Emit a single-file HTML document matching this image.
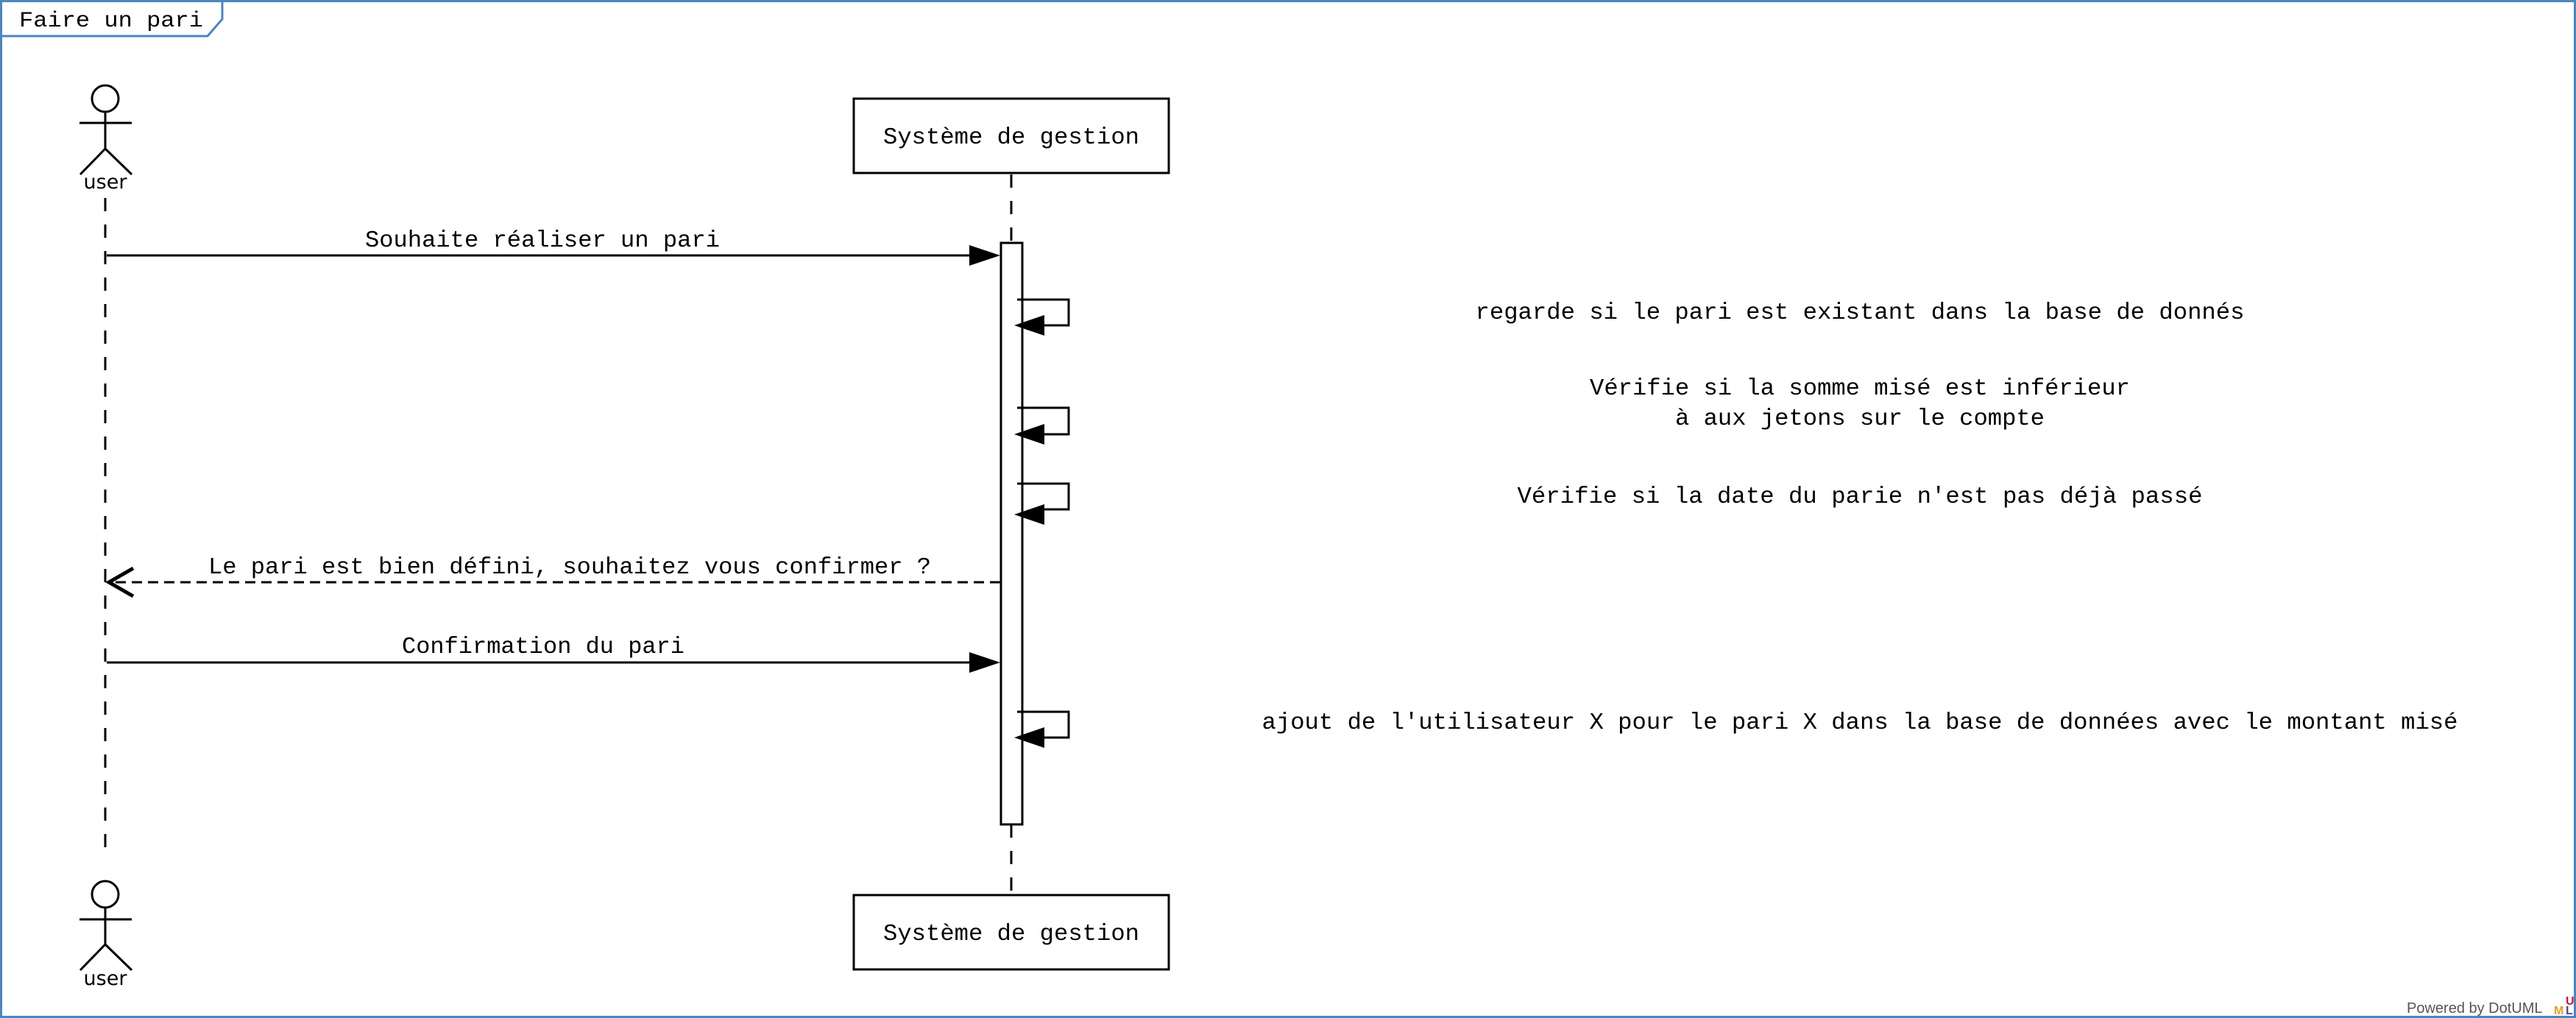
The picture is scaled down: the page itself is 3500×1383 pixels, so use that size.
<!DOCTYPE html>
<html><head><meta charset="utf-8"><style>html,body{margin:0;padding:0;background:#fff}svg{display:block}</style></head>
<body>
<svg width="3500" height="1383" viewBox="0 0 3500 1383" xmlns="http://www.w3.org/2000/svg">
<rect x="0" y="0" width="3500" height="1383" fill="#fff"/>
<rect x="1.5" y="1.5" width="3497" height="1380" fill="none" stroke="#4a86c0" stroke-width="3"/>
<path d="M1.5 49 L282 49 L302 26 L302 1.5" fill="none" stroke="#4a86c0" stroke-width="3"/>
<g font-family="Liberation Mono, monospace" font-size="31.6" fill="#000">
<text x="26" y="36" font-size="30" textLength="250" lengthAdjust="spacingAndGlyphs">Faire un pari</text>
</g>
<g stroke="#000" stroke-width="3" fill="none">
<ellipse cx="143" cy="134" rx="18" ry="18"/>
<line x1="143" y1="152" x2="143" y2="202"/>
<line x1="108" y1="167" x2="179" y2="167"/>
<line x1="143" y1="202" x2="109" y2="237"/>
<line x1="143" y1="202" x2="179" y2="237"/>
<ellipse cx="143" cy="1215" rx="18" ry="18"/>
<line x1="143" y1="1233" x2="143" y2="1283"/>
<line x1="108" y1="1249" x2="179" y2="1249"/>
<line x1="143" y1="1283" x2="109" y2="1318"/>
<line x1="143" y1="1283" x2="179" y2="1318"/>
<line x1="143" y1="269" x2="143" y2="1167" stroke-dasharray="18 18"/>
<line x1="1374" y1="237" x2="1374" y2="330" stroke-dasharray="18 18"/>
<line x1="1374" y1="1120" x2="1374" y2="1215" stroke-dasharray="18 18"/>
<rect x="1160" y="134" width="428" height="101" fill="#fff"/>
<rect x="1160" y="1216" width="428" height="101" fill="#fff"/>
<rect x="1360" y="330" width="29" height="790" fill="#fff"/>
<line x1="145" y1="347" x2="1325" y2="347"/>
<line x1="145" y1="900" x2="1325" y2="900"/>
<line x1="1359" y1="791" x2="150" y2="791" stroke-dasharray="14 8"/>
<polyline points="181,772 148,791 181,810" stroke-width="5"/>
<polyline points="1382,407 1452,407 1452,442 1415,442"/>
<polyline points="1382,554 1452,554 1452,590 1415,590"/>
<polyline points="1382,657 1452,657 1452,692 1415,692"/>
<polyline points="1382,967 1452,967 1452,1002 1415,1002"/>
</g>
<g fill="#000">
<polygon points="1359,347 1317,333 1317,361"/>
<polygon points="1359,900 1317,886 1317,914"/>
<polygon points="1378,442 1419,428 1419,456"/>
<polygon points="1378,590 1419,576 1419,604"/>
<polygon points="1378,699 1419,685 1419,713"/>
<polygon points="1378,1002 1419,988 1419,1016"/>
</g>
<g font-family="Liberation Mono, monospace" font-size="31.6" fill="#000" text-anchor="middle" lengthAdjust="spacingAndGlyphs">
<text x="1374" y="195" textLength="348" lengthAdjust="spacingAndGlyphs">Système de gestion</text>
<text x="1374" y="1277" textLength="348" lengthAdjust="spacingAndGlyphs">Système de gestion</text>
<text x="737" y="335" textLength="482" lengthAdjust="spacingAndGlyphs">Souhaite réaliser un pari</text>
<text x="774" y="779" textLength="982" lengthAdjust="spacingAndGlyphs">Le pari est bien défini, souhaitez vous confirmer ?</text>
<text x="738" y="887" textLength="384" lengthAdjust="spacingAndGlyphs">Confirmation du pari</text>
<text x="2527" y="433" textLength="1045" lengthAdjust="spacingAndGlyphs">regarde si le pari est existant dans la base de donnés</text>
<text x="2527" y="536" textLength="734" lengthAdjust="spacingAndGlyphs">Vérifie si la somme misé est inférieur</text>
<text x="2527" y="577" textLength="502" lengthAdjust="spacingAndGlyphs">à aux jetons sur le compte</text>
<text x="2527" y="683" textLength="931" lengthAdjust="spacingAndGlyphs">Vérifie si la date du parie n'est pas déjà passé</text>
<text x="2527" y="990" textLength="1625" lengthAdjust="spacingAndGlyphs">ajout de l'utilisateur X pour le pari X dans la base de données avec le montant misé</text>
</g>
<g font-family="DejaVu Sans, sans-serif" font-size="27" fill="#000" text-anchor="middle">
<text x="143" y="256">user</text>
<text x="143" y="1338">user</text>
</g>
<text x="3270" y="1376" font-family="Liberation Sans, sans-serif" font-size="20" fill="#555">Powered by DotUML</text>
<text x="3470" y="1378" font-family="Liberation Sans, sans-serif" font-size="16" font-weight="bold" fill="#e0a020">M</text>
<text x="3486" y="1378" font-family="Liberation Sans, sans-serif" font-size="16" font-weight="bold" fill="#5040a0">L</text>
<text x="3486" y="1365" font-family="Liberation Sans, sans-serif" font-size="16" font-weight="bold" fill="#d01040">U</text>
</svg>
</body></html>
